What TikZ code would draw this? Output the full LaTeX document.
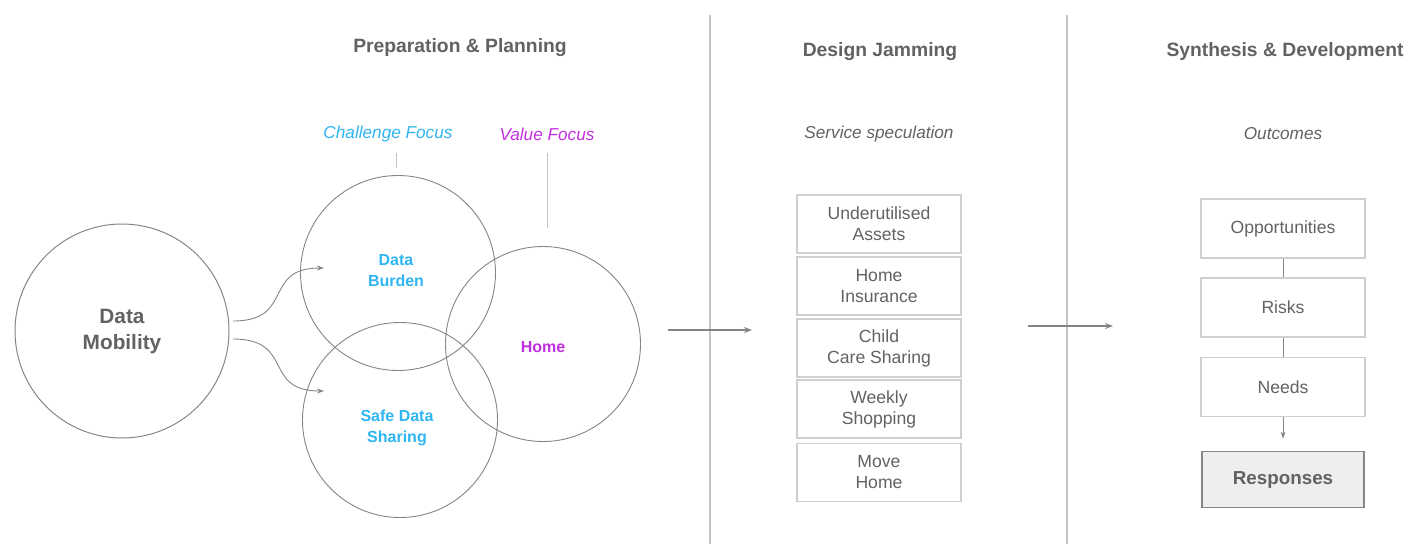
\documentclass[tikz,border=0pt]{standalone}
\usepackage{fontspec}
\setmainfont{Liberation Sans}
\usetikzlibrary{arrows.meta,calc}
\definecolor{txtgray}{HTML}{626262}
\definecolor{linegray}{HTML}{858585}
\definecolor{divgray}{HTML}{C4C4C4}
\definecolor{boxgray}{HTML}{CFCFCF}
\definecolor{cyanblue}{HTML}{2FB5F2}
\definecolor{magentav}{HTML}{C22FE0}
\definecolor{respfill}{HTML}{EEEEEE}
\tikzset{
  title/.style={font=\fontsize{19.3}{23}\selectfont\bfseries, text=txtgray},
  subtitle/.style={font=\fontsize{17.2}{20}\selectfont\itshape, text=txtgray},
  venn/.style={circle, draw=linegray, line width=0.9pt, inner sep=0pt, minimum size=195pt},
  clabel/.style={font=\fontsize{16}{21}\selectfont\bfseries, align=center},
  jambox/.style={draw=boxgray, line width=1.2pt, minimum width=164pt, minimum height=58pt, inner sep=0pt, align=center, text=txtgray, font=\fontsize{17.6}{21}\selectfont},
  outbox/.style={draw=boxgray, line width=1.2pt, minimum width=164pt, minimum height=59pt, inner sep=0pt, align=center, text=txtgray, font=\fontsize{17.6}{21}\selectfont},
  flow/.style={draw=linegray, line width=0.9pt, -{Stealth[length=7pt,width=5pt]}},
  bigflow/.style={draw=linegray, line width=1.3pt, -{Stealth[length=8pt,width=6pt]}},
  divider/.style={draw=divgray, line width=1.6pt},
  tick/.style={draw=divgray, line width=1pt}
}
\begin{document}
\begin{tikzpicture}[x=1pt,y=-1pt]
\useasboundingbox (0,0) rectangle (1407,544);
% dividers
\coordinate (d1t) at (710,15); \coordinate (d1b) at (710,544);
\coordinate (d2t) at (1067,15); \coordinate (d2b) at (1067,544);
\draw[divider] (d1t) -- (d1b);
\draw[divider] (d2t) -- (d2b);
% titles
\node[title] (t1) at (460,48) {Preparation \& Planning};
\node[title] (t2) at (880,52) {Design Jamming};
\node[title] (t3) at (1285,52) {Synthesis \& Development};
\node[subtitle] (s2) at (879,134) {Service speculation};
\node[subtitle] (s3) at (1283,134) {Outcomes};
\node[subtitle, text=cyanblue] (cf) at (388,134) {Challenge Focus};
\node[subtitle, text=magentav] (vf) at (547,134) {Value Focus};
% data mobility
\node[circle, draw=linegray, line width=1pt, inner sep=0pt, minimum size=214pt,
      font=\fontsize{20.8}{26}\selectfont\bfseries, text=txtgray, align=center] (dm) at (122,331) {Data\\Mobility};
% venn circles
\node[venn] (db) at (398,273) {};
\node[venn] (sds) at (400,420) {};
\node[venn] (home) at (543,344) {};
\node[clabel, text=cyanblue] (dbl) at (396,271) {Data\\Burden};
\node[clabel, text=cyanblue] (sdsl) at (397,428) {Safe Data\\Sharing};
\node[clabel, text=magentav] (homel) at (543,347) {Home};
% focus ticks
\coordinate (cft) at (396,153); \coordinate (cfb) at (396,168);
\coordinate (vft) at (547,153); \coordinate (vfb) at (547,228);
\draw[tick] (cft) -- (cfb);
\draw[tick] (vft) -- (vfb);
% arrows from data mobility
\coordinate (a1s) at (233,321); \coordinate (a1e) at (324,268);
\coordinate (a2s) at (233,339); \coordinate (a2e) at (324,391);
\draw[flow] (a1s) .. controls (295,321) and (262,268) .. (a1e);
\draw[flow] (a2s) .. controls (295,339) and (262,391) .. (a2e);
% phase arrows
\coordinate (p1s) at (668,330); \coordinate (p1e) at (752,330);
\coordinate (p2s) at (1028,326); \coordinate (p2e) at (1113,326);
\draw[bigflow] (p1s) -- (p1e);
\draw[bigflow] (p2s) -- (p2e);
% design jamming boxes
\node[jambox] (j1) at (879,224) {Underutilised\\Assets};
\node[jambox] (j2) at (879,286) {Home\\Insurance};
\node[jambox] (j3) at (879,348) {Child\\Care Sharing};
\node[jambox] (j4) at (879,409) {Weekly\\Shopping};
\node[jambox] (j5) at (879,472.5) {Move\\Home};
% outcomes
\node[outbox] (opp) at (1283,228.5) {Opportunities};
\node[outbox] (risk) at (1283,307.5) {Risks};
\node[outbox] (need) at (1283,387) {Needs};
\node[draw=linegray, fill=respfill, line width=1.8pt, minimum width=162pt, minimum height=56pt, inner sep=0pt,
      text=txtgray, font=\fontsize{18.8}{22}\selectfont\bfseries] (resp) at (1283,479.5) {Responses};
\draw[draw=linegray, line width=0.9pt] (opp) -- (risk);
\draw[draw=linegray, line width=0.9pt] (risk) -- (need);
\draw[flow] (need.south) -- ([yshift=12pt]resp.north);
\end{tikzpicture}
\end{document}
